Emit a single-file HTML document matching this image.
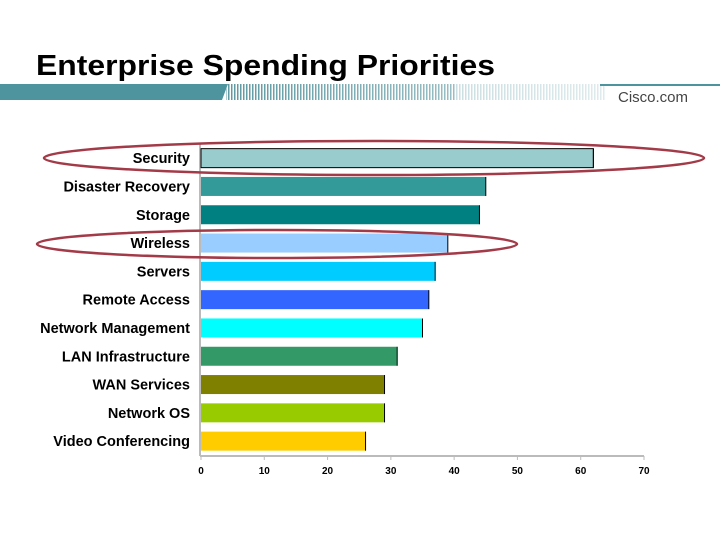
<!DOCTYPE html>
<html><head><meta charset="utf-8"><style>
body{margin:0;width:720px;height:540px;background:#fff;overflow:hidden;font-family:"Liberation Sans",sans-serif}
</style></head><body>
<svg width="720" height="540" xmlns="http://www.w3.org/2000/svg">
<defs>
<pattern id="hatch" width="3" height="16" patternUnits="userSpaceOnUse"><rect width="1.5" height="16" fill="#5e9aa3"/></pattern>
<linearGradient id="fade" x1="0" x2="1"><stop offset="0" stop-color="#fff" stop-opacity="0"/><stop offset="1" stop-color="#fff" stop-opacity="1"/></linearGradient>
</defs>
<text x="36" y="75" font-size="29" font-weight="bold" fill="#000" textLength="459" lengthAdjust="spacingAndGlyphs">Enterprise Spending Priorities</text>
<g>
<polygon points="0,84 228,84 222,100 0,100" fill="#4e949e"/>
<rect x="226" y="84" width="230" height="16" fill="url(#hatch)"/>
<rect x="456" y="84" width="150" height="16" fill="url(#hatch)" opacity="0.5"/>
<rect x="226" y="84" width="380" height="16" fill="url(#fade)" opacity="0.6"/>
<rect x="600" y="84" width="120" height="2" fill="#4e949e"/>
<text x="618" y="102" font-size="15" fill="#444">Cisco.com</text>
</g>
<g id="chart"></g>
<ellipse cx="374" cy="158" rx="330" ry="17" fill="none" stroke="#a33a48" stroke-width="2.5"/>
<ellipse cx="277" cy="244" rx="240" ry="14" fill="none" stroke="#a33a48" stroke-width="2.5"/>
</svg>
<script>
const categories=["Security","Disaster Recovery","Storage","Wireless","Servers","Remote Access","Network Management","LAN Infrastructure","WAN Services","Network OS","Video Conferencing"];
const values=[62,45,44,39,37,36,35,31,29,29,26];
const colors=["#99cccc","#339999","#008080","#99ccff","#00ccff","#3366ff","#00ffff","#339966","#808000","#99cc00","#ffcc00"];
const ticks=[0,10,20,30,40,50,60,70];
const NS="http://www.w3.org/2000/svg";
const g=document.getElementById('chart');
const x0=201,x1=644,xmax=70,yTop=144,pitch=28.3,bh=19;
const xs=v=>x0+(x1-x0)*v/xmax;
const yc=i=>yTop+pitch*(i+0.5);
function mk(t,a){const e=document.createElementNS(NS,t);for(const k in a)e.setAttribute(k,a[k]);g.appendChild(e);return e;}
let ax=mk('line',{x1:x0-1,y1:yTop,x2:x0-1,y2:456,stroke:'#bbb','stroke-width':2});


let bx=mk('line',{x1:x0-1,y1:456,x2:x1,y2:456,stroke:'#bbb','stroke-width':2});


ticks.forEach(t=>{
 const tl=mk('line',{x1:xs(t),y1:456,x2:xs(t),y2:460,stroke:'#bbb','stroke-width':1});
 
 
 const tx=mk('text',{x:xs(t),y:474,'font-size':10,'font-weight':'bold','text-anchor':'middle'});
 tx.textContent=t;
 
 
});
categories.forEach((c,i)=>{
 const r=mk('rect',{x:x0,y:yc(i)-bh/2,width:xs(values[i])-x0,height:bh,fill:colors[i]});
 if(i===0)r.setAttribute('stroke','#000');
 
 
 const ed=mk('line',{x1:xs(values[i]),y1:yc(i)-bh/2,x2:xs(values[i]),y2:yc(i)+bh/2,stroke:'#000','stroke-width':1});
 
 
 const l=mk('text',{x:190,y:yc(i)+5,'font-size':14.5,'font-weight':'bold','text-anchor':'end'});
 l.textContent=c;
 
 
});
</script>
</body></html>
